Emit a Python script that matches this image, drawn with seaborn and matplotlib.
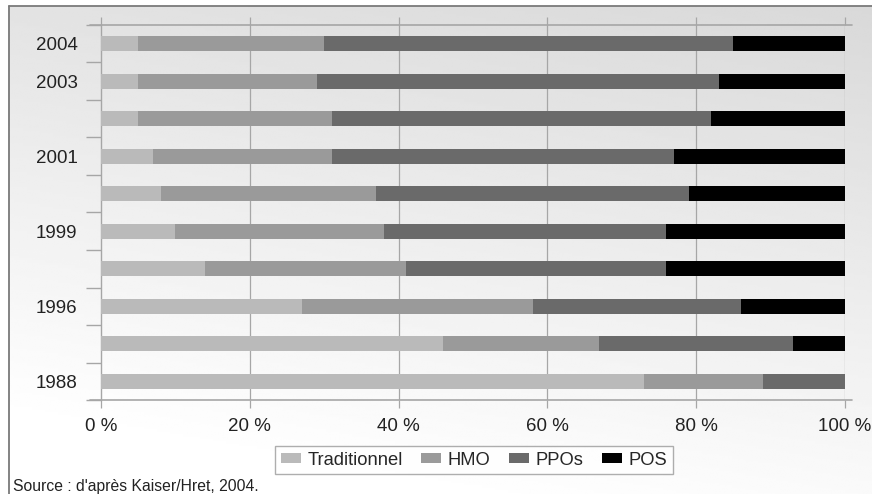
import numpy as np
import pandas as pd
import matplotlib
matplotlib.use("Agg")
import matplotlib.pyplot as plt
import seaborn as sns
from matplotlib.patches import Patch

# Market share of health plan types among covered workers (%)
years = ["2004", "2003", "2002", "2001", "2000", "1999", "1998", "1996", "1993", "1988"]
year_labels = ["2004", "2003", "", "2001", "", "1999", "", "1996", "", "1988"]
traditionnel = [5, 5, 5, 7, 8, 10, 14, 27, 46, 73]
hmo = [25, 24, 26, 24, 29, 28, 27, 31, 21, 16]
ppos = [55, 54, 51, 46, 42, 38, 35, 28, 26, 11]
pos = [15, 17, 18, 23, 21, 24, 24, 14, 7, 0]
series_names = ["Traditionnel", "HMO", "PPOs", "POS"]
series_colors = ["#bababa", "#9a9a9a", "#6a6a6a", "#000000"]
x_ticks = [0, 20, 40, 60, 80, 100]
x_tick_labels = ["0 %", "20 %", "40 %", "60 %", "80 %", "100 %"]
source_text = "Source : d'après Kaiser/Hret, 2004."

sns.set_theme(style="white")
plt.rcParams["font.family"] = ["Liberation Sans", "DejaVu Sans"]

W, H = 872, 494
fig = plt.figure(figsize=(W / 100, H / 100), dpi=100)
fig.patch.set_facecolor("white")

# Soft grey gradient panel behind the chart
bg = fig.add_axes([8 / W, 0, 1 - 8 / W, 1 - 6 / H], zorder=-10)
yy, xx = np.mgrid[0:1:200j, 0:1:200j]
shade = 0.85 + 0.13 * yy + 0.04 * (1 - xx)
bg.imshow(np.clip(shade, 0, 1), cmap="gray", vmin=0, vmax=1, aspect="auto",
          extent=[0, 1, 0, 1], origin="upper", interpolation="bilinear")
bg.set_xlim(0, 1)
bg.set_ylim(0, 1)
bg.axis("off")
# Frame lines on the left and top
fig.add_artist(plt.Line2D([8.5 / W, 8.5 / W], [0, 1 - 6.5 / H], color="#7a7a7a", lw=1.3))
fig.add_artist(plt.Line2D([8.5 / W, 1], [1 - 6.5 / H, 1 - 6.5 / H], color="#7a7a7a", lw=1.3))

ax = fig.add_axes([101 / W, 1 - 400 / H, 744 / W, 375 / H])
ax.set_facecolor("none")

df = pd.DataFrame({"year": years, "Traditionnel": traditionnel, "HMO": hmo,
                   "PPOs": ppos, "POS": pos})
cum = df[series_names].cumsum(axis=1)

# Stacked bars: draw cumulative totals from the outermost segment inward
for name, color in reversed(list(zip(series_names, series_colors))):
    sns.barplot(data=cum.assign(year=years), x=name, y="year", order=years,
                color=color, width=0.39, orient="h", ax=ax, saturation=1,
                linewidth=0, zorder=3)

ax.set_xlim(0, 100)
ax.set_ylim(len(years) - 0.5, -0.5)
ax.set_xlabel("")
ax.set_ylabel("")

grid_c = "#a6a6a6"
for sp in ["top", "right", "bottom"]:
    ax.spines[sp].set_visible(False)
ax.spines["left"].set_color(grid_c)
ax.spines["left"].set_linewidth(1)

ax.set_xticks(x_ticks)
ax.set_xticklabels(x_tick_labels, fontsize=13.5, color="#222222")
ax.tick_params(axis="x", which="major", direction="out", length=6, width=0.9,
               color=grid_c, pad=7, top=True, bottom=True, labeltop=False)
for xv in x_ticks[1:]:
    ax.axvline(xv, color=grid_c, lw=0.9, zorder=1)

ax.set_yticks(range(len(years)))
ax.set_yticklabels(year_labels, fontsize=13.5, color="#222222")
ax.tick_params(axis="y", which="major", length=0, pad=17)
ax.set_yticks(np.arange(-0.5, len(years) + 0.5, 1.0), minor=True)
ax.tick_params(axis="y", which="minor", direction="out", length=11, width=1,
               color=grid_c, left=True)

# Top and bottom rules running slightly past the plot area
for yv in [-0.5, len(years) - 0.5]:
    ax.plot([-1.5, 101], [yv, yv], color=grid_c, lw=1.2, clip_on=False, zorder=2)

handles = [Patch(facecolor=c, edgecolor="none", label=n)
           for n, c in zip(series_names, series_colors)]
leg = fig.legend(handles=handles, loc="center", bbox_to_anchor=(474 / W, 1 - 460 / H),
                 ncol=4, fontsize=13.2, frameon=True, fancybox=False,
                 handlelength=1.1, handleheight=0.5, handletextpad=0.35,
                 columnspacing=1.0, borderpad=0.3)
leg.get_frame().set_edgecolor("#9a9a9a")
leg.get_frame().set_facecolor("white")
leg.get_frame().set_linewidth(1)

fig.text(13 / W, 1 - 486 / H, source_text, fontsize=11.3, color="#222222",
         ha="left", va="center")

fig.savefig("out.png", dpi=100)
